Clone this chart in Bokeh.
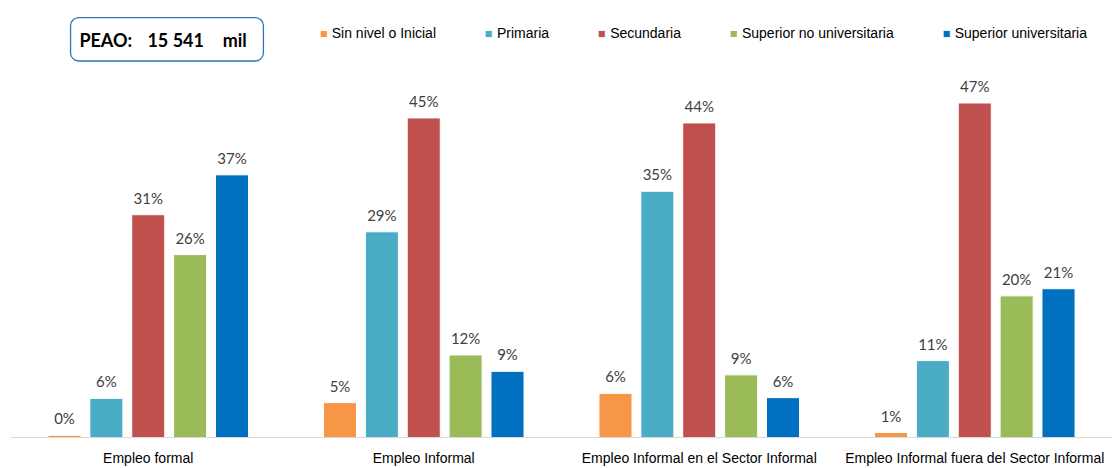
from bokeh.plotting import figure
from bokeh.models import (FactorRange, Range1d, ColumnDataSource, Legend, LegendItem,
                          Label, BoxAnnotation)
from bokeh.transform import dodge
from bokeh.core.properties import value
from bokeh.embed import file_html
from bokeh.resources import INLINE

categories = ["Empleo formal", "Empleo Informal",
              "Empleo Informal en el Sector Informal",
              "Empleo Informal fuera del Sector Informal"]
series_names = ["Sin nivel o Inicial", "Primaria", "Secundaria",
                "Superior no universitaria", "Superior universitaria"]
sin_nivel = [0.3, 4.9, 6.2, 0.7]
primaria = [5.5, 28.9, 34.6, 10.8]
secundaria = [31.3, 44.9, 44.2, 47.0]
sup_no_univ = [25.7, 11.6, 8.8, 19.9]
sup_univ = [36.9, 9.3, 5.6, 20.9]
sin_nivel_lbl = ["0%", "5%", "6%", "1%"]
primaria_lbl = ["6%", "29%", "35%", "11%"]
secundaria_lbl = ["31%", "45%", "44%", "47%"]
sup_no_univ_lbl = ["26%", "12%", "9%", "20%"]
sup_univ_lbl = ["37%", "9%", "6%", "21%"]
peao_text = "PEAO:"
peao_value = "15 541"
peao_unit = "mil"

series = [sin_nivel, primaria, secundaria, sup_no_univ, sup_univ]
labels = [sin_nivel_lbl, primaria_lbl, secundaria_lbl, sup_no_univ_lbl, sup_univ_lbl]
colors = ["#F79646", "#4BACC6", "#C0504D", "#9BBB59", "#0070C0"]

YMAX = 61.4
p = figure(width=1112, height=468,
           x_range=FactorRange(factors=categories, range_padding=0),
           y_range=Range1d(0, YMAX),
           output_backend="svg", toolbar_location=None,
           min_border_left=10, min_border_right=0, min_border_top=0, min_border_bottom=0)
p.outline_line_color = None
p.xgrid.visible = False
p.ygrid.visible = False
p.yaxis.visible = False
p.xaxis.axis_line_color = "#D9D9D9"
p.xaxis.axis_line_width = 1
p.xaxis.major_tick_line_color = None
p.xaxis.major_tick_out = 0
p.xaxis.major_tick_in = 0
p.xaxis.minor_tick_line_color = None
p.xaxis.major_label_standoff = 12
p.xaxis.major_label_text_font = "Liberation Sans"
p.xaxis.major_label_text_font_size = "14px"
p.xaxis.major_label_text_color = "#000000"

step = 0.152
width = 0.12
items = []
for k, (vals, lbls, col, name) in enumerate(zip(series, labels, colors, series_names)):
    src = ColumnDataSource(dict(cat=categories, v=vals, lbl=lbls))
    off = (k - 2) * step
    r = p.vbar(x=dodge("cat", off, range=p.x_range), top="v", width=width, source=src,
               fill_color=col, line_color="white", line_width=1)
    p.text(x=dodge("cat", off, range=p.x_range), y="v", text="lbl", source=src,
           text_align="center", text_baseline="bottom", y_offset=-8,
           text_font=value("Lato"), text_font_size="15px", text_color="#404040")
    items.append(LegendItem(label=name, renderers=[r]))

legend = Legend(items=items, orientation="horizontal", location="top_right",
                glyph_width=9, glyph_height=9, label_height=16, label_standoff=4,
                spacing=48, padding=0, margin=25, border_line_color=None,
                background_fill_alpha=0,
                label_text_font="Liberation Sans", label_text_font_size="14px",
                label_text_color="#000000")
p.add_layout(legend)

box = BoxAnnotation(left=0.218, right=0.918, bottom=52.9, top=59.0,
                    fill_color="white", fill_alpha=1, line_color="#2E75B6",
                    line_alpha=1, line_width=1.3, border_radius=8)
p.add_layout(box)
for txt, x in [(peao_text, 0.250), (peao_value, 0.497), (peao_unit, 0.770)]:
    p.add_layout(Label(x=x, y=55.8, text=txt, text_align="left", text_baseline="middle",
                       text_font="Lato", text_font_style="bold", text_font_size="18px",
                       text_color="#000000"))

open("out.html", "w").write(file_html(p, INLINE))
